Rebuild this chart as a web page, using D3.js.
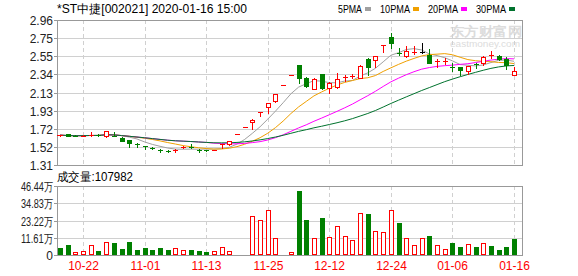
<!DOCTYPE html>
<html>
<head>
<meta charset="utf-8">
<script src="https://cdn.jsdelivr.net/npm/d3@7"></script>
<style>
  body { margin: 0; background: #fff; }
  text { font-family: "Liberation Sans", Arial, sans-serif; }
</style>
</head>
<body>
<svg id="chart" width="578" height="276"></svg>
<script>
// trading days shown on the chart
const dates = [
  "10-17","10-18","10-21","10-22","10-23","10-24","10-25","10-28","10-29","10-30",
  "10-31","11-01","11-04","11-05","11-06","11-07","11-08","11-11","11-12","11-13",
  "11-14","11-15","11-18","11-19","11-20","11-21","11-22","11-25","12-03","12-04",
  "12-05","12-06","12-09","12-10","12-11","12-12","12-13","12-16","12-17","12-18",
  "12-19","12-20","12-23","12-24","12-25","12-26","12-27","12-30","12-31","01-02",
  "01-03","01-06","01-07","01-08","01-09","01-10","01-13","01-14","01-15","01-16"
];
const opens = [
  1.645,1.66,1.645,1.64,1.645,1.655,1.635,1.645,1.62,1.595,
  1.55,1.53,1.505,1.485,1.47,1.468,1.51,1.51,1.48,1.476,
  1.478,1.54,1.545,1.66,1.74,1.795,1.918,1.97,2.04,2.22,
  2.33,2.447,2.30,2.18,2.34,2.19,2.20,2.30,2.315,2.30,
  2.52,2.50,2.672,2.77,2.59,2.545,2.58,2.60,2.56,2.48,
  2.485,2.425,2.43,2.375,2.46,2.475,2.555,2.555,2.52,2.335
];
const highs = [
  1.655,1.665,1.65,1.65,1.69,1.66,1.70,1.685,1.625,1.60,
  1.56,1.53,1.515,1.49,1.475,1.492,1.526,1.545,1.49,1.48,
  1.483,1.55,1.585,1.66,1.74,1.83,1.918,2.014,2.115,2.22,
  2.33,2.447,2.31,2.30,2.35,2.25,2.36,2.335,2.35,2.445,
  2.525,2.55,2.677,2.81,2.64,2.665,2.665,2.70,2.63,2.515,
  2.525,2.467,2.43,2.44,2.475,2.545,2.605,2.56,2.535,2.42
];
const lows = [
  1.64,1.635,1.635,1.635,1.64,1.645,1.63,1.635,1.585,1.51,
  1.52,1.49,1.49,1.46,1.455,1.455,1.50,1.50,1.462,1.465,
  1.476,1.50,1.54,1.66,1.74,1.72,1.865,1.905,2.03,2.22,
  2.33,2.24,2.20,2.17,2.18,2.13,2.19,2.27,2.30,2.295,
  2.33,2.43,2.60,2.64,2.56,2.54,2.575,2.58,2.47,2.42,
  2.465,2.383,2.335,2.345,2.41,2.45,2.53,2.51,2.40,2.33
];
const closes = [
  1.65,1.64,1.64,1.645,1.655,1.65,1.695,1.64,1.587,1.565,
  1.545,1.525,1.50,1.48,1.465,1.485,1.518,1.505,1.477,1.473,
  1.481,1.545,1.58,1.66,1.74,1.827,1.918,2.014,2.115,2.22,
  2.33,2.30,2.21,2.29,2.19,2.245,2.29,2.31,2.325,2.44,
  2.43,2.55,2.675,2.70,2.585,2.61,2.60,2.60,2.475,2.49,
  2.49,2.42,2.39,2.435,2.455,2.54,2.56,2.515,2.45,2.385
];
// volume in 万 shares
const volumes = [
  4.5,6.7,1.8,2.7,6.7,2.7,8.5,7.9,4.0,8.7,
  3.4,4.7,3.4,4.7,3.4,4.5,3.2,3.4,2.9,2.2,
  2.5,5.2,2.7,0.5,0.5,26.2,23.6,30.3,11.4,0.5,
  2.0,43.1,23.6,11.2,24.9,11.9,19.3,12.6,9.9,28.3,
  27.6,16.2,15.5,30.1,21.5,11.2,6.5,11.2,12.8,6.5,
  3.8,8.1,5.2,7.2,5.2,7.9,6.1,3.4,5.2,10.7982
];
// 1 = red (up) volume bar, 0 = green
const volUp = [
  0,0,1,1,1,0,1,0,0,0, 0,0,0,0,0,1,1,0,0,0,
  1,1,1,1,1,1,1,1,1,1, 1,0,0,1,0,1,1,1,1,1,
  0,1,1,1,0,1,1,1,0,1, 1,0,0,1,0,1,0,0,0,0
];
const priceTicks = [2.96, 2.75, 2.55, 2.34, 2.13, 1.93, 1.72, 1.52, 1.31];
const volTicks = [0, 11.61, 23.22, 34.83, 46.44];
const dateTicks = ["10-22","11-01","11-13","11-25","12-12","12-24","01-06","01-16"];
const maPeriods = [5, 10, 20, 30];
const maColors = ["#a0a0a0", "#f0a000", "#ff00ff", "#00722d"];
const refPrice = 1.65;
const lastVolume = 107982;

const svg = d3.select("#chart");
const left = 57, right = 522;
const mainTop = 20, mainBottom = 165;
const volTop = 186, volBottom = 255;
const RED = "#ff0000", GREEN = "#008000", GRID = "#d0d0d0", BORDER = "#999";

const x = d3.scalePoint().domain(dates).range([60, 514]);
const y = d3.scaleLinear().domain([1.31, 2.96]).range([mainBottom, mainTop]);
const yv = d3.scaleLinear().domain([0, 46.44]).range([volBottom, volTop]);
const px = d => Math.round(x(d));

// title
svg.append("text")
  .attr("x", 57).attr("y", 13)
  .attr("font-family", "'Noto Sans CJK SC', sans-serif")
  .attr("font-size", 12)
  .attr("textLength", 190).attr("lengthAdjust", "spacingAndGlyphs")
  .text("*ST中捷[002021] 2020-01-16 15:00");

// MA legend
let lx = 338;
maPeriods.forEach((p, i) => {
  const label = p + "PMA";
  const w = label.length * 6;
  svg.append("text")
    .attr("x", lx).attr("y", 13)
    .attr("font-family", "'Liberation Mono', monospace")
    .attr("font-size", 11)
    .attr("textLength", w).attr("lengthAdjust", "spacingAndGlyphs")
    .text(label);
  svg.append("rect")
    .attr("x", lx + w + 3).attr("y", 7)
    .attr("width", 6).attr("height", 4)
    .attr("fill", maColors[i]);
  lx += w + 3 + 6 + 9;
});

// watermark
svg.append("text")
  .attr("x", 450).attr("y", 36)
  .attr("font-family", "'Noto Sans CJK SC', sans-serif")
  .attr("font-size", 13).attr("font-weight", "bold")
  .attr("fill", "#dcdcdc")
  .attr("textLength", 72).attr("lengthAdjust", "spacingAndGlyphs")
  .text("东方财富网");
svg.append("text")
  .attr("x", 450).attr("y", 47)
  .attr("font-size", 9)
  .attr("fill", "#dcdcdc")
  .attr("textLength", 70).attr("lengthAdjust", "spacingAndGlyphs")
  .text("eastmoney.com");

// grids for both panels
const grid = svg.append("g").attr("shape-rendering", "crispEdges");
priceTicks.forEach(t => {
  grid.append("line")
    .attr("x1", left).attr("x2", right)
    .attr("y1", Math.round(y(t)) + 0.5).attr("y2", Math.round(y(t)) + 0.5)
    .attr("stroke", GRID);
});
volTicks.forEach(t => {
  grid.append("line")
    .attr("x1", left).attr("x2", right)
    .attr("y1", Math.round(yv(t)) + 0.5).attr("y2", Math.round(yv(t)) + 0.5)
    .attr("stroke", GRID);
});
dateTicks.forEach(d => {
  [[mainTop, mainBottom], [volTop, volBottom]].forEach(([t, b]) => {
    grid.append("line")
      .attr("x1", px(d) + 0.5).attr("x2", px(d) + 0.5)
      .attr("y1", t).attr("y2", b)
      .attr("stroke", GRID)
      .attr("stroke-dasharray", "4,3");
  });
});

// panel borders
[[mainTop, mainBottom], [volTop, volBottom]].forEach(([t, b]) => {
  grid.append("rect")
    .attr("x", left + 0.5).attr("y", t + 0.5)
    .attr("width", right - left).attr("height", b - t)
    .attr("fill", "none").attr("stroke", BORDER);
});

// price axis labels + ticks
priceTicks.forEach(t => {
  const yy = Math.round(y(t)) + 0.5;
  grid.append("line").attr("x1", 54).attr("x2", left).attr("y1", yy).attr("y2", yy).attr("stroke", BORDER);
  svg.append("text")
    .attr("x", 53).attr("y", yy)
    .attr("text-anchor", "end").attr("dominant-baseline", "central")
    .attr("font-size", 12).attr("fill", "#222")
    .text(t.toFixed(2));
});
svg.append("line")
  .attr("x1", left).attr("x2", left + 4)
  .attr("y1", Math.round(y(refPrice)) + 0.5).attr("y2", Math.round(y(refPrice)) + 0.5)
  .attr("stroke", RED);

// volume axis labels + ticks
volTicks.forEach(t => {
  const yy = Math.round(yv(t)) + 0.5;
  grid.append("line").attr("x1", 54).attr("x2", left).attr("y1", yy).attr("y2", yy).attr("stroke", BORDER);
  const lab = svg.append("text")
    .attr("x", 53).attr("y", yy)
    .attr("text-anchor", "end").attr("dominant-baseline", "central")
    .attr("font-size", 12).attr("fill", "#222")
    .text(t === 0 ? "0" : t.toFixed(2) + "万");
  if (t !== 0) lab.attr("textLength", 32).attr("lengthAdjust", "spacingAndGlyphs");
});

svg.append("text")
  .attr("x", 57).attr("y", 181)
  .attr("font-family", "'Noto Sans CJK SC', sans-serif")
  .attr("font-size", 12)
  .attr("textLength", 76).attr("lengthAdjust", "spacingAndGlyphs")
  .text("成交量:" + lastVolume);

// date labels
dateTicks.forEach(d => {
  svg.append("text")
    .attr("x", px(d) + 0.5).attr("y", 266)
    .attr("text-anchor", "middle").attr("dominant-baseline", "central")
    .attr("font-size", 12).attr("fill", RED)
    .text(d);
});

// moving averages from closes (window shortened at the start)
const ma = n => closes.map((c, i) => d3.mean(closes.slice(Math.max(0, i - n + 1), i + 1)));
const line = d3.line().x((d, i) => x(dates[i])).y(d => y(d));
maPeriods.forEach((p, i) => {
  svg.append("path")
    .attr("d", line(ma(p)))
    .attr("fill", "none")
    .attr("stroke", maColors[i])
    .attr("stroke-width", 1);
});

// candles
const candleColor = i => {
  if (closes[i] > opens[i]) return RED;
  if (closes[i] < opens[i]) return GREEN;
  const prev = i > 0 ? closes[i - 1] : opens[i];
  return closes[i] > prev ? RED : closes[i] < prev ? GREEN : "#000";
};
const candles = svg.append("g").attr("shape-rendering", "crispEdges");
dates.forEach((d, i) => {
  const cx = px(d);
  const col = candleColor(i);
  candles.append("line")
    .attr("x1", cx + 0.5).attr("x2", cx + 0.5)
    .attr("y1", Math.round(y(highs[i]))).attr("y2", Math.round(y(lows[i])) + 1)
    .attr("stroke", col);
  const top = Math.round(y(Math.max(opens[i], closes[i])));
  const bot = Math.round(y(Math.min(opens[i], closes[i])));
  if (bot - top < 2) {
    candles.append("line")
      .attr("x1", cx - 2).attr("x2", cx + 3)
      .attr("y1", top + 0.5).attr("y2", top + 0.5)
      .attr("stroke", col);
  } else if (col === RED) {
    candles.append("rect")
      .attr("x", cx - 2 + 0.5).attr("y", top + 0.5)
      .attr("width", 4).attr("height", bot - top)
      .attr("fill", "#fff").attr("stroke", RED);
  } else {
    candles.append("rect")
      .attr("x", cx - 2).attr("y", top)
      .attr("width", 5).attr("height", bot - top + 1)
      .attr("fill", col);
  }
});

// volume bars
const vols = svg.append("g").attr("shape-rendering", "crispEdges");
dates.forEach((d, i) => {
  const cx = px(d);
  const top = Math.round(yv(volumes[i]));
  const h = Math.max(1, volBottom - top);
  if (volUp[i]) {
    vols.append("rect")
      .attr("x", cx - 2 + 0.5).attr("y", volBottom - h + 0.5)
      .attr("width", 4).attr("height", h - 1)
      .attr("fill", "#fff").attr("stroke", RED);
  } else {
    vols.append("rect")
      .attr("x", cx - 2).attr("y", volBottom - h)
      .attr("width", 5).attr("height", h)
      .attr("fill", GREEN);
  }
});
</script>
</body>
</html>
